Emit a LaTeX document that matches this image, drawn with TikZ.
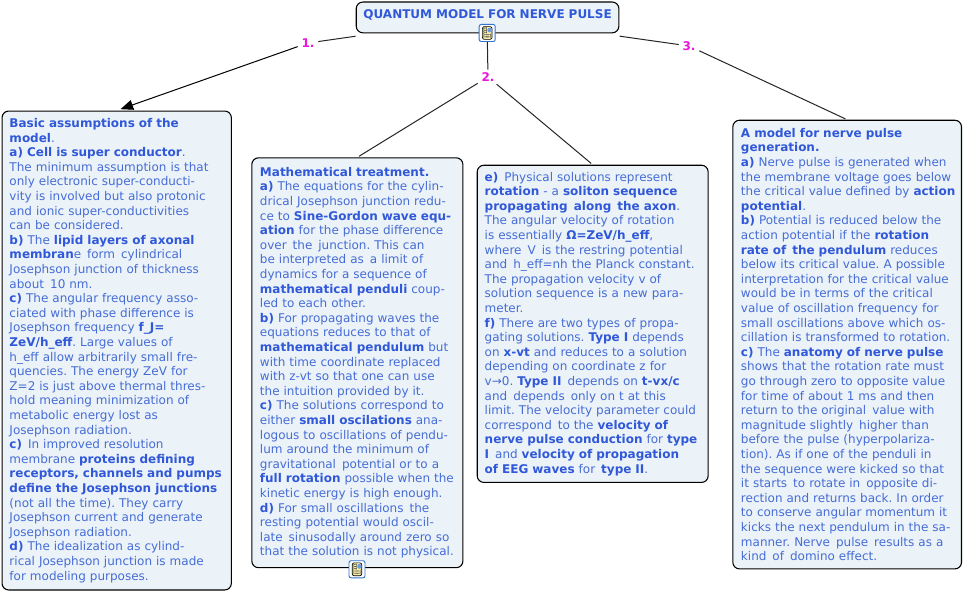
\documentclass[tikz,border=0pt]{standalone}
\usepackage{fontspec}
\setmainfont{DejaVu Sans}
\usetikzlibrary{arrows.meta}
\definecolor{txtblue}{RGB}{70,108,214}
\definecolor{boldblue}{RGB}{48,88,216}
\definecolor{boxfill}{RGB}{235,243,248}
\definecolor{lblmag}{RGB}{236,20,222}
\definecolor{iconblue}{RGB}{50,115,205}
\definecolor{iconyellow}{RGB}{250,240,170}
\newcommand{\bb}[1]{{\bfseries\color{boldblue}#1}}
\newcommand{\dsp}{\ \,}
\tikzset{
  x=0.75pt,y=-0.75pt,
  txtbox/.style={draw=black,line width=0.8pt,fill=boxfill,rounded corners=5pt,inner xsep=5.6pt,inner ysep=0pt,
    align=left,text=txtblue,font=\fontsize{9}{10.95}\selectfont\frenchspacing},
  lbl/.style={text=lblmag,font=\fontsize{9}{10.95}\bfseries\selectfont,inner sep=0pt,minimum width=15pt,minimum height=10.5pt},
  conn/.style={draw=black!85,line width=0.75pt},
  iconbox/.style={draw=iconblue,line width=0.7pt,fill=white,rounded corners=1.5pt,minimum width=12pt,minimum height=12.8pt,inner sep=0pt,
    path picture={
      \fill[iconyellow,draw=black,line width=0.5pt] ([xshift=2.4pt,yshift=1.6pt]path picture bounding box.south west) rectangle ([xshift=-2.4pt,yshift=-1.6pt]path picture bounding box.north east);
      \fill[black!75] ([xshift=3.4pt,yshift=-2.4pt]path picture bounding box.north west) rectangle ++(2.4pt,-0.6pt);
      \fill[black!75] ([xshift=3.4pt,yshift=-4pt]path picture bounding box.north west) rectangle ++(2.4pt,-0.6pt);
      \fill[black!75] ([xshift=3.4pt,yshift=-5.6pt]path picture bounding box.north west) rectangle ++(2.4pt,-0.6pt);
      \fill[black!75] ([xshift=3.4pt,yshift=-7.4pt]path picture bounding box.north west) rectangle ++(5.2pt,-0.6pt);
      \fill[black!75] ([xshift=3.4pt,yshift=-9pt]path picture bounding box.north west) rectangle ++(5.2pt,-0.6pt);
      \fill[iconblue!70] ([xshift=6.2pt,yshift=-2.4pt]path picture bounding box.north west) rectangle ++(3pt,-3.6pt);
    }},
}
\begin{document}
\begin{tikzpicture}
\useasboundingbox (0,0) rectangle (963,592);
\fill[white] (0,0) rectangle (963,592);

\node[txtbox,inner xsep=1pt,minimum width=197pt,minimum height=23.1pt,text width=195pt,text height=7pt,text depth=5.8pt,align=center,font=\fontsize{9}{10.95}\bfseries\selectfont,text=boldblue,anchor=north west] (title) at (355.7,1.5) {QUANTUM MODEL FOR NERVE PULSE};

\node[lbl] (l1) at (308,43) {1.};
\node[lbl] (l2) at (488,77) {2.};
\node[lbl] (l3) at (689,46) {3.};

\node[txtbox,anchor=north west,minimum width=172pt,minimum height=359.2pt,text width=172pt-11.2pt] (box1) at (1.5,110.5) {%
\bb{Basic assumptions of the}\\
\bb{model}.\\
\bb{a) Cell is super conductor}.\\
The minimum assumption is that\\
only electronic super-conducti-\\
vity is involved but also protonic\\
and ionic super-conductivities\\
can be considered.\\
\bb{b)} The \bb{lipid layers of axonal}\\
\bb{membran}e\dsp form\dsp cylindrical\\
Josephson junction of thickness\\
about\dsp 10 nm.\\
\bb{c)} The angular frequency asso-\\
ciated with phase difference is\\
Josephson frequency \bb{f\_J=}\\
\bb{ZeV/h\_eff}. Large values of\\
h\_eff allow arbitrarily small fre-\\
quencies. The energy ZeV for\\
Z=2 is just above thermal thres-\\
hold meaning minimization of\\
metabolic energy lost as\\
Josephson radiation.\\
\bb{c)}\dsp In improved resolution\\
membrane \bb{proteins defining}\\
\bb{receptors, channels and pumps}\\
\bb{define the Josephson junctions}\\
(not all the time). They carry\\
Josephson current and generate\\
Josephson radiation.\\
\bb{d)} The idealization as cylind-\\
rical Josephson junction is made\\
for modeling purposes.};

\node[txtbox,anchor=north west,inner xsep=6.1pt,minimum width=158.3pt,minimum height=307.4pt,text width=158.3pt-12.2pt] (box2) at (251.3,157.3) {%
\bb{Mathematical treatment.}\\
\bb{a)} The equations for the cylin-\\
drical Josephson junction redu-\\
ce to \bb{Sine-Gordon wave equ-}\\
\bb{ation} for the phase difference\\
over\dsp the\dsp junction. This can\\
be interpreted as\dsp a limit of\\
dynamics for a sequence of\\
\bb{mathematical penduli} coup-\\
led to each other.\\
\bb{b)} For propagating waves the\\
equations reduces to that of\\
\bb{mathematical pendulum} but\\
with time coordinate replaced\\
with z-vt so that one can use\\
the intuition provided by it.\\
\bb{c)} The solutions correspond to\\
either \bb{small oscilations} ana-\\
logous to oscillations of pendu-\\
lum around the minimum of\\
gravitational\dsp potential or to a\\
\bb{full rotation} possible when the\\
kinetic energy is high enough.\\
\bb{d)} For small oscillations\dsp the\\
resting potential would oscil-\\
late\dsp sinusodally around zero so\\
that the solution is not physical.};

\node[txtbox,anchor=north west,minimum width=173.2pt,minimum height=237.9pt,text width=173.2pt-11.2pt] (box3) at (476.7,164.7) {%
\bb{e)}\dsp Physical solutions represent\\
\bb{rotation} - a \bb{soliton sequence}\\
\bb{propagating\dsp along\dsp the axon}.\\
The angular velocity of rotation\\
is essentially \bb{Ω=ZeV/h\_eff},\\
where\dsp V\dsp is the restring potential\\
and\dsp h\_eff=nh the Planck constant.\\
The propagation velocity v of\\
solution sequence is a new para-\\
meter.\\
\bb{f)} There are two types of propa-\\
gating solutions. \bb{Type I} depends\\
on \bb{x-vt} and reduces to a solution\\
depending on coordinate z for\\
v→0. \bb{Type II}\dsp depends on \bb{t-vx/c}\\
and\dsp depends\dsp only on t at this\\
limit. The velocity parameter could\\
correspond\dsp to the \bb{velocity of}\\
\bb{nerve pulse conduction} for \bb{type}\\
\bb{I}\dsp and \bb{velocity of propagation}\\
\bb{of EEG waves} for\dsp \bb{type II}.};

\node[txtbox,anchor=north west,inner xsep=6.1pt,minimum width=171.5pt,minimum height=336.5pt,text width=171.5pt-12.2pt] (box4) at (732.3,119.7) {%
\bb{A model for nerve pulse}\\
\bb{generation.}\\
\bb{a)} Nerve pulse is generated when\\
the membrane voltage goes below\\
\mbox{the critical value defined by \bb{action}}\\
\bb{potential}.\\
\bb{b)} Potential is reduced below the\\
action potential if the \bb{rotation}\\
\bb{rate of\dsp the pendulum} reduces\\
below its critical value. A possible\\
interpretation for the critical value\\
would be in terms of the critical\\
value of oscillation frequency for\\
small oscillations above which os-\\
cillation is transformed to rotation.\\
\bb{c)} The \bb{anatomy of nerve pulse}\\
shows that the rotation rate must\\
go through zero to opposite value\\
for time of about 1 ms and then\\
return to the original\dsp value with\\
magnitude slightly\dsp higher than\\
before the pulse (hyperpolariza-\\
tion). As if one of the penduli in\\
the sequence were kicked so that\\
it starts\dsp to rotate in\dsp opposite di-\\
rection and returns back. In order\\
to conserve angular momentum it\\
kicks the next pendulum in the sa-\\
manner. Nerve\dsp pulse\dsp results as a\\
kind\dsp of\dsp domino effect.};

\node[iconbox] (icon1) at (487.2,33) {};
\node[iconbox] (icon2) at (357,569.3) {};

\draw[conn,shorten <=100pt] (title.center) -- (l1);
\draw[conn] (icon1) -- (l2);
\draw[conn,shorten <=100pt] (title.center) -- (l3);
\draw[conn,-{Triangle[length=9.5pt,width=7.5pt]},shorten >=3pt,black] (l1) -- (box1.north);
\draw[conn,shorten >=1.5pt] (l2) -- (box2.north);
\draw[conn,shorten >=1.5pt] (l2) -- (box3.north);
\draw[conn,shorten >=1.5pt] (l3) -- (box4.north);
\end{tikzpicture}
\end{document}
